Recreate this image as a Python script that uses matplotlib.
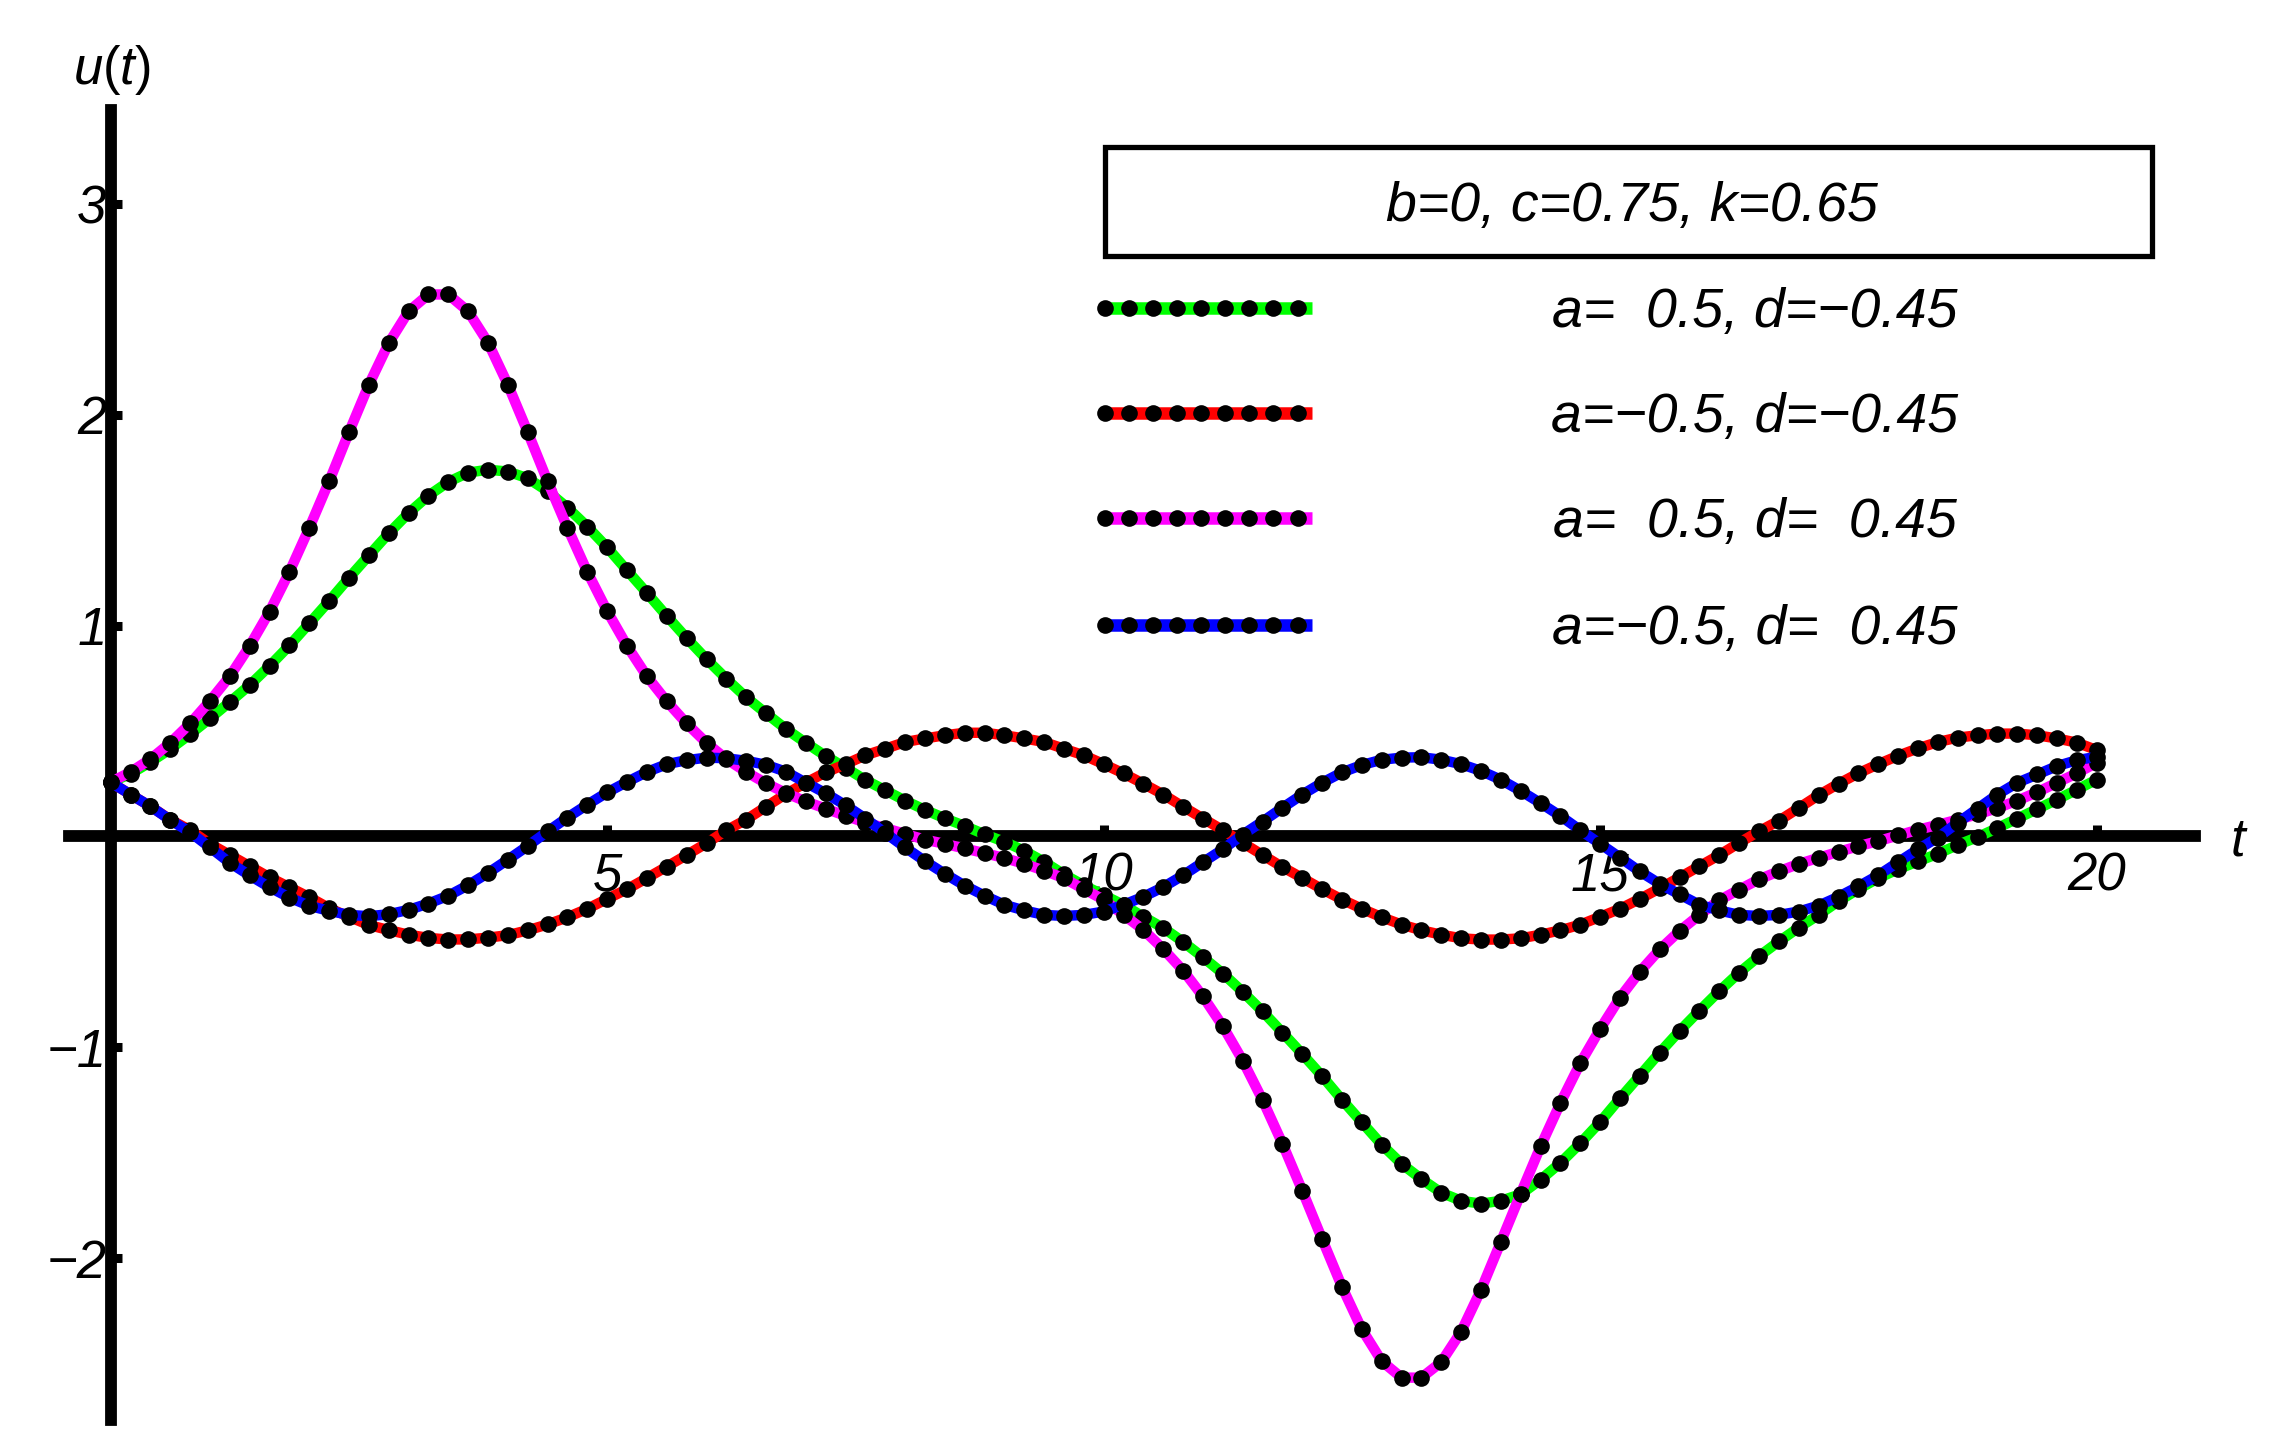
import numpy as np
import matplotlib.pyplot as plt
from matplotlib.lines import Line2D
from matplotlib.patches import Rectangle

plt.rcParams['font.family'] = ['Liberation Sans', 'DejaVu Sans']
plt.rcParams['mathtext.fontset'] = 'custom'
plt.rcParams['mathtext.it'] = 'Liberation Sans:italic'
plt.rcParams['mathtext.rm'] = 'Liberation Sans'

# sample grid (step 0.2)
t = np.round(np.arange(101) * 0.2, 1)

# a=0.5, d=-0.45
u_green = [0.257, 0.297, 0.353, 0.415, 0.485, 0.560, 0.638, 0.718, 0.809, 0.906,
           1.011, 1.117, 1.227, 1.333, 1.438, 1.534, 1.617, 1.682, 1.726, 1.740,
           1.731, 1.699, 1.638, 1.560, 1.470, 1.371, 1.262, 1.155, 1.046, 0.941,
           0.841, 0.748, 0.660, 0.584, 0.510, 0.444, 0.382, 0.326, 0.268, 0.219,
           0.170, 0.126, 0.086, 0.050, 0.010, -0.025, -0.068, -0.120, -0.180, -0.232,
           -0.278, -0.325, -0.381, -0.434, -0.500, -0.573, -0.650, -0.737, -0.830, -0.930,
           -1.032, -1.137, -1.249, -1.356, -1.462, -1.553, -1.625, -1.690, -1.728, -1.742,
           -1.728, -1.697, -1.628, -1.548, -1.455, -1.354, -1.242, -1.134, -1.025, -0.922,
           -0.826, -0.733, -0.646, -0.568, -0.498, -0.432, -0.372, -0.307, -0.250, -0.198,
           -0.155, -0.118, -0.082, -0.040, -0.003, 0.040, 0.085, 0.130, 0.175, 0.222,
           0.270]

# a=-0.5, d=-0.45
u_red = [0.257, 0.199, 0.143, 0.080, 0.030, -0.035, -0.088, -0.141, -0.194, -0.241,
         -0.288, -0.340, -0.381, -0.420, -0.444, -0.466, -0.481, -0.489, -0.488, -0.480,
         -0.468, -0.445, -0.417, -0.383, -0.343, -0.296, -0.250, -0.197, -0.143, -0.088,
         -0.032, 0.029, 0.080, 0.141, 0.202, 0.255, 0.304, 0.343, 0.385, 0.416,
         0.448, 0.465, 0.480, 0.492, 0.492, 0.480, 0.465, 0.448, 0.416, 0.385,
         0.343, 0.299, 0.250, 0.199, 0.141, 0.085, 0.030, -0.030, -0.088, -0.145,
         -0.197, -0.250, -0.299, -0.343, -0.383, -0.418, -0.445, -0.466, -0.483, -0.489,
         -0.489, -0.483, -0.466, -0.445, -0.418, -0.381, -0.343, -0.296, -0.246, -0.194,
         -0.141, -0.088, -0.030, 0.025, 0.075, 0.135, 0.196, 0.250, 0.300, 0.343,
         0.383, 0.418, 0.448, 0.469, 0.480, 0.488, 0.488, 0.480, 0.465, 0.445,
         0.410]

# a=0.5, d=0.45
u_magenta = [0.257, 0.306, 0.367, 0.444, 0.536, 0.643, 0.760, 0.904, 1.067, 1.255,
             1.464, 1.685, 1.918, 2.143, 2.340, 2.491, 2.571, 2.571, 2.491, 2.343,
             2.143, 1.918, 1.685, 1.464, 1.255, 1.069, 0.904, 0.760, 0.641, 0.536,
             0.444, 0.367, 0.306, 0.252, 0.206, 0.166, 0.132, 0.098, 0.066, 0.040,
             0.012, -0.015, -0.035, -0.057, -0.079, -0.102, -0.130, -0.162, -0.198, -0.250,
             -0.300, -0.372, -0.443, -0.534, -0.636, -0.759, -0.900, -1.063, -1.250, -1.457,
             -1.680, -1.910, -2.136, -2.338, -2.489, -2.567, -2.567, -2.493, -2.349, -2.150,
             -1.923, -1.694, -1.470, -1.264, -1.075, -0.913, -0.764, -0.641, -0.536, -0.448,
             -0.372, -0.302, -0.252, -0.203, -0.165, -0.130, -0.101, -0.073, -0.046, -0.022,
             0.005, 0.032, 0.055, 0.080, 0.105, 0.135, 0.170, 0.210, 0.255, 0.300,
             0.350]

# a=-0.5, d=0.45
u_blue = [0.257, 0.199, 0.143, 0.078, 0.020, -0.052, -0.125, -0.185, -0.241, -0.290,
          -0.329, -0.353, -0.372, -0.378, -0.369, -0.348, -0.318, -0.281, -0.231, -0.173,
          -0.110, -0.045, 0.024, 0.090, 0.151, 0.209, 0.259, 0.306, 0.343, 0.362,
          0.374, 0.371, 0.359, 0.340, 0.307, 0.255, 0.205, 0.148, 0.085, 0.017,
          -0.052, -0.117, -0.177, -0.233, -0.281, -0.324, -0.351, -0.372, -0.377, -0.372,
          -0.356, -0.324, -0.286, -0.240, -0.184, -0.122, -0.061, 0.009, 0.071, 0.136,
          0.199, 0.255, 0.304, 0.339, 0.364, 0.374, 0.376, 0.364, 0.343, 0.311,
          0.269, 0.216, 0.158, 0.097, 0.030, -0.035, -0.100, -0.166, -0.225, -0.275,
          -0.324, -0.351, -0.372, -0.377, -0.372, -0.356, -0.328, -0.286, -0.237, -0.184,
          -0.122, -0.061, -0.005, 0.065, 0.132, 0.199, 0.255, 0.294, 0.334, 0.362,
          0.378]

series = [u_green, u_red, u_magenta, u_blue]
colors = ["#00ff00", "#ff0000", "#ff00ff", "#0000ff"]
labels = ["a=  0.5, d=\u22120.45", "a=\u22120.5, d=\u22120.45",
          "a=  0.5, d=  0.45", "a=\u22120.5, d=  0.45"]
box_title = "b=0, c=0.75, k=0.65"

W, H = 2291, 1456


def fpos(x, y):
    # pixel position (from top-left) -> figure fraction
    return x / W, 1 - y / H


fig = plt.figure(figsize=(W / 100, H / 100), dpi=100)
ax = fig.add_axes([69 / W, 1 - 1420 / H, (2195 - 69) / W, (1420 - 109.6) / H])

for u, c in zip(series, colors):
    ax.plot(t, u, color=c, lw=7.5, solid_capstyle='butt',
            marker='o', markersize=12, markerfacecolor='black',
            markeredgewidth=0, zorder=3)

ax.set_xlim(-0.42, 20.99)
ax.set_ylim(-2.768, 3.448)

for s in ['top', 'right']:
    ax.spines[s].set_visible(False)
for s in ['left', 'bottom']:
    ax.spines[s].set_position(('data', 0))
    ax.spines[s].set_linewidth(8.5)
    ax.spines[s].set_zorder(2)

ax.set_xticks([5, 10, 15, 20])
ax.set_yticks([-2, -1, 1, 2, 3])
ax.tick_params(direction='in', length=8, width=6.5, labelsize=38)
ax.tick_params(axis='x', pad=11)
ax.tick_params(axis='y', pad=3)
for lbl in ax.get_xticklabels() + ax.get_yticklabels():
    lbl.set_fontstyle('italic')

# axis labels
fig.text(*fpos(112, 84), r'$u(t)$', fontsize=38, ha='center', va='baseline')
fig.text(*fpos(2238, 855), 't', fontsize=38, style='italic', ha='center', va='baseline')

# legend box with parameter text
x0, y0 = fpos(1104.6, 255.7)
x1, y1 = fpos(2152, 147)
fig.add_artist(Rectangle((x0, y0), x1 - x0, y1 - y0, transform=fig.transFigure,
                         fill=False, lw=3.8, edgecolor='black'))
fig.text(*fpos(1632, 221), box_title, fontsize=40, style='italic',
         ha='center', va='baseline')

# legend entries
rows = [307.5, 412.9, 518.2, 624.6]
dot_x = np.linspace(1104.6, 1297.5, 9)
for ry, c, lab in zip(rows, colors, labels):
    lx0, ly = fpos(1101, ry)
    lx1, _ = fpos(1311.5, ry)
    fig.add_artist(Line2D([lx0, lx1], [ly, ly], transform=fig.transFigure,
                          color=c, lw=9, solid_capstyle='butt'))
    fig.add_artist(Line2D(dot_x / W, np.full(9, ly), transform=fig.transFigure,
                          ls='none', marker='o', markersize=12,
                          markerfacecolor='black', markeredgewidth=0))
    fig.text(*fpos(1755, ry + 19), lab, fontsize=40, style='italic',
             ha='center', va='baseline')

fig.savefig('out.png', dpi=100, facecolor='white')
